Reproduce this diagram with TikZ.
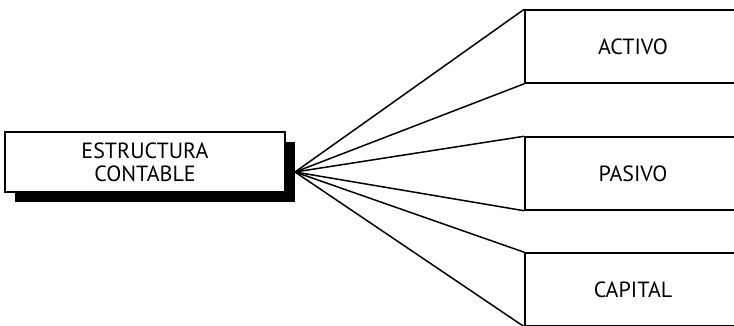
\documentclass[tikz,border=0pt]{standalone}
\usepackage{fontspec}
\setmainfont{PT Sans}
\usetikzlibrary{shadows}

\tikzset{
  mainbox/.style={draw, line width=1.5pt, fill=white, minimum width=280pt, minimum height=60pt,
    align=center, font=\fontsize{22}{23}\selectfont,
    drop shadow={shadow xshift=10pt, shadow yshift=-10pt, fill=black, opacity=1}},
  partbox/.style={draw, line width=1.5pt, minimum width=216pt, minimum height=73pt,
    font=\fontsize{22}{23}\selectfont},
  branch/.style={line width=1.5pt}
}

\begin{document}
\begin{tikzpicture}[x=1pt, y=-1pt]
  \useasboundingbox (0,0) rectangle (734,325);
  \clip (0,0) rectangle (734,325);

  \node[mainbox] (estructura) at (145,162) {ESTRUCTURA\\CONTABLE};
  \coordinate (apex) at (295,172);

  \node[partbox] (activo)  at (633,46.5)  {ACTIVO};
  \node[partbox] (pasivo)  at (633,173.5) {PASIVO};
  \node[partbox] (capital) at (633,289.5) {CAPITAL};

  \draw[branch] (apex) -- (activo.north west);
  \draw[branch] (apex) -- (activo.south west);
  \draw[branch] (apex) -- (pasivo.north west);
  \draw[branch] (apex) -- (pasivo.south west);
  \draw[branch] (apex) -- (capital.north west);
  \draw[branch] (apex) -- (capital.south west);
\end{tikzpicture}
\end{document}
